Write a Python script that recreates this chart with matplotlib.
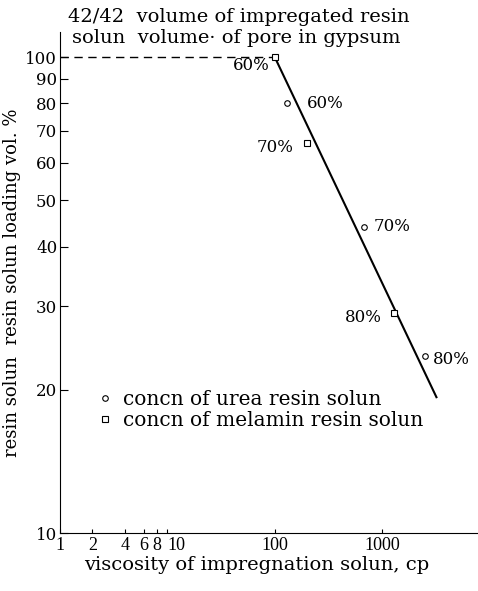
import matplotlib
matplotlib.use('Agg')
import matplotlib.pyplot as plt

plt.rcParams['font.family'] = ['DejaVu Serif', 'Liberation Serif']

# urea resin solution points (viscosity cp, loading vol.%)
urea_visc = [130, 680, 2500]
urea_load = [80, 44, 23.5]
urea_conc = ['60%', '70%', '80%']

# melamin resin solution points
mel_visc = [100, 200, 1300]
mel_load = [100, 66, 29]
mel_conc = ['60%', '70%', '80%']

# fitted line
line_visc = [100, 3200]
line_load = [100, 19.3]

xticks = [1, 2, 4, 6, 8, 10, 100, 1000]
yticks = [10, 20, 30, 40, 50, 60, 70, 80, 90, 100]

fig = plt.figure(figsize=(4.78, 5.91), dpi=100)
ax = fig.add_axes([0.1255, 0.098, 0.8745, 0.848])

ax.plot([1, mel_visc[0]], [mel_load[0], mel_load[0]], '--', color='black', lw=1.0, dashes=(6, 4))
ax.plot(line_visc, line_load, color='black', lw=1.5)
ax.plot(urea_visc, urea_load, 'o', ms=4, mfc='white', mec='black', mew=0.8, ls='none',
        label='concn of urea resin solun')
ax.plot(mel_visc, mel_load, 's', ms=4.5, mfc='white', mec='black', mew=0.8, ls='none',
        label='concn of melamin resin solun')

# concentration labels
off_m = [(-17, -6, 'center'), (-10, -3, 'right'), (-9, -3, 'right')]
for x, y, t, (dx, dy, ha) in zip(mel_visc, mel_load, mel_conc, off_m):
    ax.annotate(t, (x, y), xytext=(dx, dy), textcoords='offset points',
                ha=ha, va='center', fontsize=12)
off_u = [(14, 0), (7, 0), (6, -2)]
for x, y, t, (dx, dy) in zip(urea_visc, urea_load, urea_conc, off_u):
    ax.annotate(t, (x, y), xytext=(dx, dy), textcoords='offset points',
                ha='left', va='center', fontsize=12)

ax.set_xscale('log')
ax.set_yscale('log')
ax.set_xlim(1, 7800)
ax.set_ylim(10, 113)
ax.set_xticks(xticks)
ax.set_xticklabels([str(v) for v in xticks], family='Liberation Serif')
ax.set_yticks(yticks)
ax.set_yticklabels([str(v) for v in yticks])
ax.minorticks_off()
ax.tick_params(axis='y', direction='in', length=6, labelsize=12, pad=2)
ax.tick_params(axis='x', direction='in', length=3, labelsize=13, pad=3)
ax.get_xticklabels()[5].set_ha('left')
ax.spines['top'].set_visible(False)
ax.spines['right'].set_visible(False)

ax.set_xlabel('viscosity of impregnation solun, cp', fontsize=14, labelpad=1, x=0.47)
ax.set_ylabel('resin solun  resin solun loading vol. %', fontsize=13, labelpad=3)

ax.legend(loc='center left', bbox_to_anchor=(0.045, 0.245), frameon=False,
          fontsize=14.5, handlelength=0.8, handletextpad=0.5, labelspacing=0.1)

fig.text(0.143, 0.972, '42/42  volume of impregated resin', fontsize=14, va='center')
fig.text(0.150, 0.935, 'solun  volume· of pore in gypsum', fontsize=14, va='center')

fig.savefig('out.png', dpi=100)
